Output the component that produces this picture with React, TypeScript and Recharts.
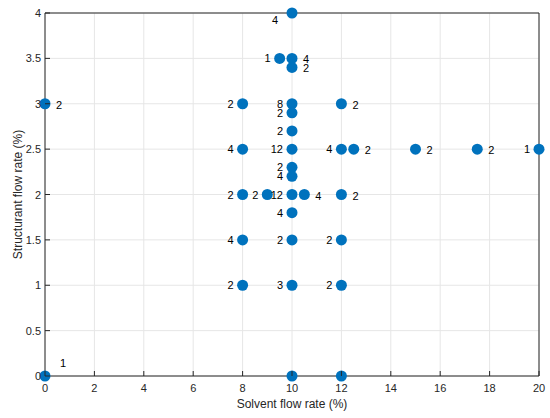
import React from 'react';
import { ScatterChart, Scatter, XAxis, YAxis, CartesianGrid } from 'recharts';

// solvent (x) / structurant (y) flow rates, with run counts next to each point
const solvent = [10, 9.5, 10, 10, 8, 10, 10, 12, 0, 10, 8, 10, 12, 12.5, 15, 17.5, 20, 10, 10, 8, 9, 10, 10.5, 12, 10, 8, 10, 12, 8, 10, 12, 0, 10, 12];
const structurant = [4, 3.5, 3.5, 3.4, 3, 3, 2.9, 3, 3, 2.7, 2.5, 2.5, 2.5, 2.5, 2.5, 2.5, 2.5, 2.3, 2.2, 2, 2, 2, 2, 2, 1.8, 1.5, 1.5, 1.5, 1, 1, 1, 0, 0, 0];
const counts = ['4', '1', '4', '2', '2', '8', '2', '2', '2', '2', '4', '12', '4', '2', '2', '2', '1', '2', '4', '2', '2', '12', '4', '2', '4', '4', '2', '2', '2', '3', '2', '1', '', ''];
const labelSide = ['below', 'left', 'right', 'right', 'left', 'left', 'left', 'right', 'right', 'left', 'left', 'left', 'left', 'right', 'right', 'right', 'left', 'left', 'left', 'left', 'left', 'left', 'right', 'right', 'left', 'left', 'left', 'left', 'left', 'left', 'left', 'above', '', ''];

const xTicks = [0, 2, 4, 6, 8, 10, 12, 14, 16, 18, 20];
const yTicks = [0, 0.5, 1, 1.5, 2, 2.5, 3, 3.5, 4];

const data = solvent.map((x, i) => ({ x, y: structurant[i], n: counts[i], side: labelSide[i] }));

const FONT = '"Liberation Sans", Arial, Helvetica, sans-serif';
const AXIS = '#262626';
const BLUE = '#0072BD';

const Dot = (props: any) => {
  const { cx, cy, payload } = props;
  let label = null;
  const common = { fontSize: 11, fontFamily: FONT, fill: '#000' };
  if (payload.side === 'left') {
    label = <text x={cx - 9} y={cy + 4} textAnchor="end" {...common}>{payload.n}</text>;
  } else if (payload.side === 'right') {
    label = <text x={cx + 11} y={cy + 5} textAnchor="start" {...common}>{payload.n}</text>;
  } else if (payload.side === 'below') {
    label = <text x={cx - 17} y={cy + 11} textAnchor="middle" {...common}>{payload.n}</text>;
  } else if (payload.side === 'above') {
    label = <text x={cx + 18} y={cy - 9} textAnchor="middle" {...common}>{payload.n}</text>;
  }
  return (
    <g>
      <circle cx={cx} cy={cy} r={5.5} fill={BLUE} />
      {label}
    </g>
  );
};

const BottomTick = (p: any) => (
  <g>
    <line x1={p.x} x2={p.x} y1={p.y} y2={p.y - 5} stroke={AXIS} />
    <text x={p.x} y={p.y + 16} textAnchor="middle" fontSize={11} fontFamily={FONT} fill={AXIS}>
      {p.payload.value}
    </text>
  </g>
);

const LeftTick = (p: any) => (
  <g>
    <line x1={p.x} x2={p.x + 5} y1={p.y} y2={p.y} stroke={AXIS} />
    <text x={p.x - 4} y={p.y + 4} textAnchor="end" fontSize={11} fontFamily={FONT} fill={AXIS}>
      {p.payload.value}
    </text>
  </g>
);

const TopTick = (p: any) => (
  <line x1={p.x} x2={p.x} y1={p.y} y2={p.y + 5} stroke={AXIS} />
);

const RightTick = (p: any) => (
  <line x1={p.x} x2={p.x - 5} y1={p.y} y2={p.y} stroke={AXIS} />
);

export default function App() {
  return (
    <div style={{ width: 550, height: 418, background: '#fff' }}>
      <style>{'body{margin:0}'}</style>
      <ScatterChart width={550} height={418} margin={{ top: 12, right: 10, bottom: 0, left: 0 }}>
        <CartesianGrid stroke="#e6e6e6" />
        <XAxis
          type="number"
          dataKey="x"
          domain={[0, 20]}
          ticks={xTicks}
          height={42}
          tickSize={0}
          tickMargin={0}
          tickLine={false}
          axisLine={{ stroke: AXIS }}
          tick={BottomTick}
          label={{ value: 'Solvent flow rate (%)', position: 'center', dy: 7, fontSize: 12, fontFamily: FONT, fill: AXIS }}
        />
        <YAxis
          type="number"
          dataKey="y"
          domain={[0, 4]}
          ticks={yTicks}
          width={45}
          tickSize={0}
          tickMargin={0}
          tickLine={false}
          axisLine={{ stroke: AXIS }}
          tick={LeftTick}
          label={{ value: 'Structurant flow rate (%)', angle: -90, position: 'center', dx: -5, fontSize: 12, fontFamily: FONT, fill: AXIS }}
        />
        <XAxis
          xAxisId="top"
          orientation="top"
          type="number"
          dataKey="x"
          domain={[0, 20]}
          ticks={xTicks}
          height={1}
          tickSize={0}
          tickMargin={0}
          tickLine={false}
          axisLine={{ stroke: AXIS }}
          tick={TopTick}
        />
        <YAxis
          yAxisId="right"
          orientation="right"
          type="number"
          dataKey="y"
          domain={[0, 4]}
          ticks={yTicks}
          width={1}
          tickSize={0}
          tickMargin={0}
          tickLine={false}
          axisLine={{ stroke: AXIS }}
          tick={RightTick}
        />
        <Scatter data={data} shape={Dot} isAnimationActive={false} />
      </ScatterChart>
    </div>
  );
}
